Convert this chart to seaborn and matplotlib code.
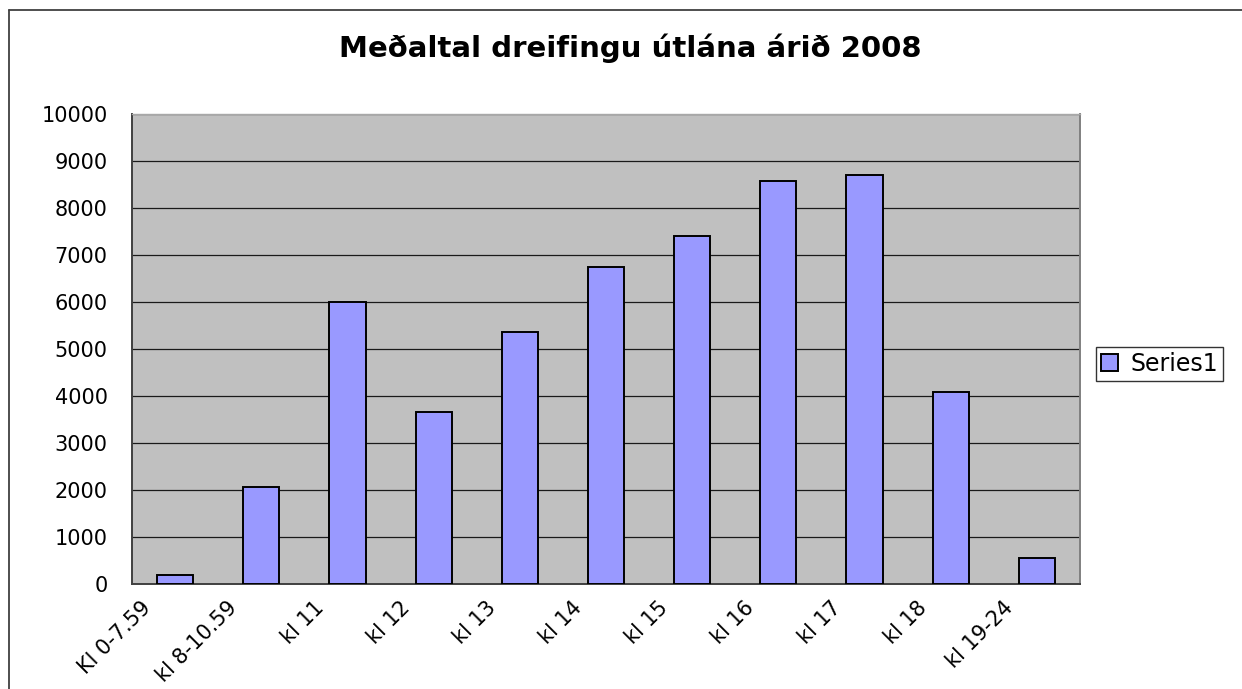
import matplotlib
matplotlib.use("Agg")
import matplotlib.pyplot as plt
import matplotlib.transforms as mtransforms
from matplotlib.lines import Line2D
import numpy as np
import pandas as pd
import seaborn as sns

# data
categories = ["Kl 0-7.59", "kl 8-10.59", "kl 11", "kl 12", "kl 13", "kl 14",
              "kl 15", "kl 16", "kl 17", "kl 18", "kl 19-24"]
values = [195, 2065, 6005, 3660, 5360, 6745, 7410, 8565, 8705, 4085, 550]
y_ticks = list(range(0, 10001, 1000))
title = "Meðaltal dreifingu útlána árið 2008"
series_name = "Series1"

sns.set_style("white")
# the reference text is wide, DejaVu Sans gets closest to its footprint
plt.rcParams["font.family"] = ["DejaVu Sans"]
plt.rcParams["text.color"] = "black"
plt.rcParams["xtick.color"] = "black"
plt.rcParams["ytick.color"] = "black"

df = pd.DataFrame({"cat": categories, "val": values})

fig = plt.figure(figsize=(12.42, 6.89), dpi=100)
ax = fig.add_axes([132 / 1242, 1 - 584 / 689,
                   (1080 - 132) / 1242, (584 - 114) / 689])
ax.set_facecolor("#C0C0C0")

sns.barplot(data=df, x="cat", y="val", color="#9999FF", saturation=1,
            edgecolor="black", linewidth=1.4, width=0.42, label=series_name,
            ax=ax, zorder=3)
if ax.get_legend() is not None:
    ax.get_legend().remove()

ax.set_xlim(-0.5, len(categories) - 0.5)
ax.set_ylim(0, 10000)
ax.set_yticks(y_ticks)
ax.set_yticklabels([str(t) for t in y_ticks], fontsize=15)
ax.set_xlabel("")
ax.set_ylabel("")
ax.grid(axis="y", color="#1a1a1a", linewidth=0.9, zorder=1)
ax.set_axisbelow(True)

# category boundary ticks as minor ticks, labels on major ticks
ax.set_xticks(np.arange(len(categories)))
ax.set_xticks(np.arange(len(categories) + 1) - 0.5, minor=True)
ax.set_xticklabels(categories, rotation=45, ha="right", va="top", fontsize=15)
ax.tick_params(axis="x", which="major", length=0, pad=10)
ax.tick_params(axis="x", which="minor", direction="out", length=6,
               width=1, color="#404040")
ax.tick_params(axis="y", direction="out", length=6.5, width=1,
               color="#404040", pad=11)
shift = mtransforms.ScaledTranslation(-0.2, 0, fig.dpi_scale_trans)
for lbl in ax.get_xticklabels():
    lbl.set_transform(lbl.get_transform() + shift)

for side in ["left", "bottom"]:
    ax.spines[side].set_color("#404040")
    ax.spines[side].set_linewidth(1.4)
ax.spines["top"].set_color("#A8A8A8")
ax.spines["right"].set_color("#808080")
ax.spines["top"].set_linewidth(1)
ax.spines["right"].set_linewidth(1.4)

fig.text(630 / 1242, 1 - 48 / 689, title, ha="center", va="center",
         fontsize=21, fontweight="bold")

handles, labels = ax.get_legend_handles_labels()
leg = fig.legend(handles, labels, loc="center left",
                 bbox_to_anchor=(1096 / 1242, 1 - 364 / 689),
                 fontsize=17, frameon=True, fancybox=False,
                 edgecolor="black", handlelength=0.75, handleheight=0.75,
                 handletextpad=0.5, borderpad=0.2, borderaxespad=0)
leg.get_frame().set_linewidth(1)

# outer chart border (left and top edges visible in the reference)
fig.add_artist(Line2D([9 / 1242, 9 / 1242], [0, 1 - 10 / 689],
                      transform=fig.transFigure, color="#404040", lw=1.3))
fig.add_artist(Line2D([9 / 1242, 1], [1 - 10 / 689, 1 - 10 / 689],
                      transform=fig.transFigure, color="#404040", lw=1.3))

fig.savefig("out.png", dpi=100)
